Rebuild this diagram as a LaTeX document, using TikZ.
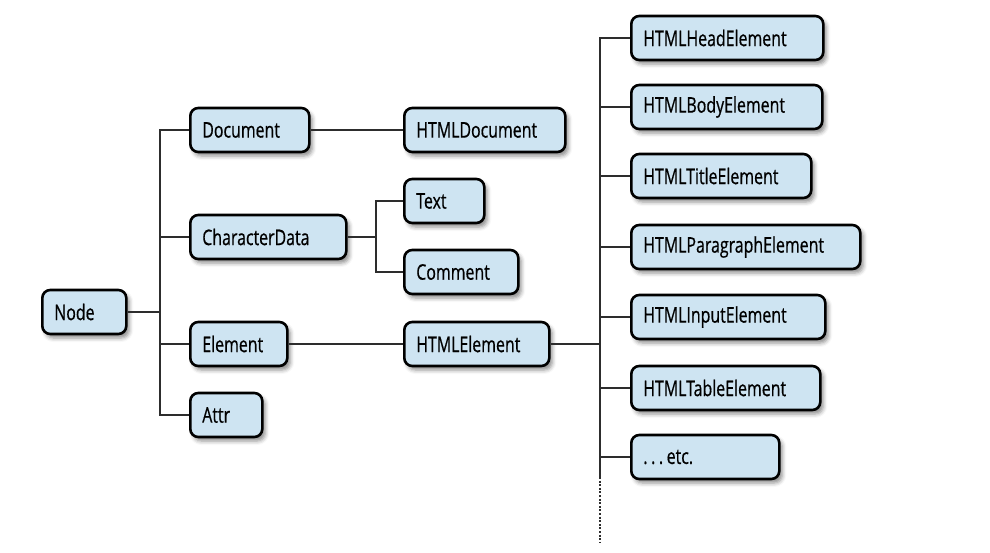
\documentclass[tikz,border=0pt]{standalone}
\usepackage{fontspec}
\setmainfont{Open Sans}[FakeStretch=0.74, FakeBold=0.6]
\usetikzlibrary{shadows.blur}
\definecolor{boxfill}{RGB}{206,228,242}
\definecolor{linegray}{RGB}{45,45,45}
\begin{document}
\begin{tikzpicture}[x=1pt,y=-1pt,
  box/.style={draw=black, line width=2.6pt, fill=boxfill, rounded corners=8pt,
    minimum height=44pt, inner xsep=12pt, inner ysep=0pt, anchor=west,
    text width=#1, align=left, font=\fontsize{21.5}{24}\selectfont,
    blur shadow={shadow xshift=3pt, shadow yshift=-4pt, shadow blur radius=4pt, shadow opacity=45}},
  link/.style={draw=linegray, line width=2.4pt},
  etcdots/.style={draw=linegray, line width=2.4pt, dash pattern=on 2pt off 1.6pt}]
\useasboundingbox (0,0) rectangle (990,552);

% bus lines of the three fan-outs
\coordinate (busA) at (160,0);
\coordinate (busC) at (376,0);
\coordinate (busB) at (600,0);
\coordinate (busBend) at (600,477);
\coordinate (busBdots) at (600,542);

% left column
\node[box=60pt]  (Node)   at (41,312) {Node};
\node[box=95pt]  (Document) at (189,130) {Document};
\node[box=132pt] (CharacterData) at (189,237) {CharacterData};
\node[box=73pt]  (Element) at (189,344) {Element};
\node[box=48pt]  (Attr) at (189,415) {Attr};

% middle column
\node[box=137pt] (HTMLDocument) at (403,130) {HTMLDocument};
\node[box=56pt]  (Text) at (403,201) {Text};
\node[box=90pt]  (Comment) at (403,272) {Comment};
\node[box=121pt] (HTMLElement) at (403,344) {HTMLElement};

% right column
\node[box=168pt] (Head) at (630,38) {HTMLHeadElement};
\node[box=167pt] (Body) at (630,107) {HTMLBodyElement};
\node[box=156pt] (Title) at (630,176) {HTMLTitleElement};
\node[box=205pt] (Para) at (630,247) {HTMLParagraphElement};
\node[box=170pt] (Input) at (630,317) {HTMLInputElement};
\node[box=165pt] (Table) at (630,388) {HTMLTableElement};
\node[box=124pt] (Etc) at (630,457) {.\,.\,.\,etc.};

% Node subtree
\draw[link] (Document.west) -- (Document.west -| busA) |- (Attr.west);
\draw[link] (Node.east) -- (Node.east -| busA);
\draw[link] (CharacterData.west) -- (CharacterData.west -| busA);
\draw[link] (Element.west) -- (Element.west -| busA);

% second level
\draw[link] (Document.east) -- (HTMLDocument.west);
\draw[link] (Element.east) -- (HTMLElement.west);
\draw[link] (Text.west) -- (Text.west -| busC) |- (Comment.west);
\draw[link] (CharacterData.east) -- (CharacterData.east -| busC);

% HTMLElement subtree
\draw[link] (Head.west) -- (Head.west -| busB) -- (busBend);
\draw[etcdots] (busBend) -- (busBdots);
\draw[link] (HTMLElement.east) -- (HTMLElement.east -| busB);
\foreach \n in {Body,Title,Para,Input,Table,Etc}
  \draw[link] (\n.west) -- (\n.west -| busB);
\end{tikzpicture}
\end{document}
